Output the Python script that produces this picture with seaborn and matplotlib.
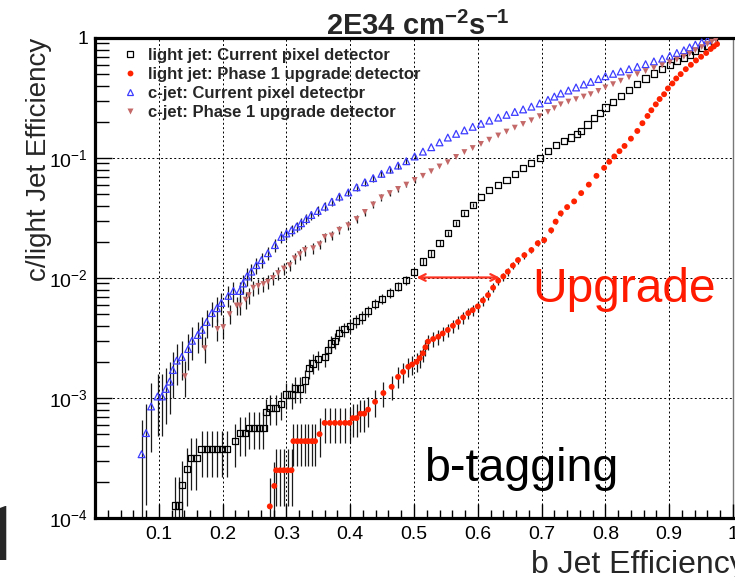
import numpy as np
import matplotlib
matplotlib.use("Agg")
import matplotlib.pyplot as plt
from matplotlib.lines import Line2D
from matplotlib.ticker import FixedLocator, FixedFormatter, LogLocator, MultipleLocator, NullFormatter
import seaborn as sns

# light jet, current pixel detector (black open squares)
x_light_cur = [0.125, 0.132, 0.136, 0.144, 0.151, 0.159, 0.167, 0.175, 0.183, 0.191,
               0.199, 0.207, 0.219, 0.227, 0.235, 0.241, 0.249, 0.257, 0.264, 0.268,
               0.275, 0.283, 0.292, 0.300, 0.308, 0.313, 0.321, 0.329, 0.336, 0.342,
               0.349, 0.360, 0.365, 0.370, 0.376, 0.382, 0.391, 0.400, 0.409, 0.418,
               0.428, 0.439, 0.450, 0.462, 0.475, 0.488, 0.500, 0.514, 0.527, 0.540,
               0.553, 0.566, 0.579, 0.592, 0.605, 0.618, 0.632, 0.645, 0.658, 0.671,
               0.684, 0.697, 0.710, 0.723, 0.735, 0.746, 0.755, 0.762, 0.772, 0.782,
               0.791, 0.800, 0.812, 0.824, 0.837, 0.850, 0.863, 0.876, 0.889, 0.901,
               0.912, 0.923, 0.932, 0.941, 0.951, 0.960, 0.970]
y_light_cur = [1.27e-4, 1.27e-4, 1.88e-4, 2.55e-4, 3.15e-4, 3.15e-4, 3.76e-4, 3.76e-4, 3.76e-4, 3.76e-4,
               3.76e-4, 3.76e-4, 4.4e-4, 5.1e-4, 5.1e-4, 5.66e-4, 5.66e-4, 5.66e-4, 5.66e-4, 7.6e-4,
               8.2e-4, 8.2e-4, 8.9e-4, 1.07e-3, 1.07e-3, 1.2e-3, 1.2e-3, 1.4e-3, 1.77e-3, 1.94e-3,
               2.1e-3, 2.2e-3, 2.5e-3, 2.85e-3, 3.0e-3, 3.5e-3, 3.75e-3, 4.0e-3, 4.35e-3, 4.7e-3,
               5.3e-3, 6.1e-3, 6.7e-3, 7.5e-3, 8.5e-3, 9.6e-3, 1.13e-2, 1.37e-2, 1.6e-2, 1.95e-2,
               2.36e-2, 2.86e-2, 3.46e-2, 4.06e-2, 0.047, 0.054, 0.060, 0.0656, 0.074, 0.082,
               0.091, 0.100, 0.114, 0.128, 0.138, 0.148, 0.158, 0.169, 0.19, 0.214,
               0.238, 0.263, 0.295, 0.329, 0.37, 0.412, 0.46, 0.507, 0.55, 0.598,
               0.64, 0.68, 0.725, 0.774, 0.82, 0.863, 0.92]
rel_err_light_cur = [0.72, 0.72, 0.60, 0.51, 0.46, 0.46, 0.42, 0.42, 0.42, 0.42,
                     0.42, 0.42, 0.39, 0.36, 0.36, 0.34, 0.34, 0.34, 0.34, 0.30,
                     0.28, 0.28, 0.27, 0.25, 0.25, 0.24, 0.24, 0.22, 0.19, 0.19,
                     0.18, 0.17, 0.16, 0.15, 0.15, 0.14, 0.133, 0.13, 0.124, 0.12,
                     0.11, 0.10, 0.10, 0.094, 0.088, 0.083, 0.077, 0.07, 0.064, 0.058,
                     0.053, 0.048, 0.044, 0.04]

# light jet, phase 1 upgrade detector (red dots)
x_light_up = [0.274, 0.281, 0.284, 0.290, 0.296, 0.302, 0.308, 0.311, 0.317, 0.323,
              0.329, 0.334, 0.340, 0.345, 0.352, 0.360, 0.368, 0.376, 0.384, 0.392,
              0.399, 0.404, 0.410, 0.416, 0.422, 0.428, 0.439, 0.452, 0.465, 0.475,
              0.483, 0.491, 0.497, 0.504, 0.509, 0.514, 0.518, 0.522, 0.530, 0.538,
              0.545, 0.553, 0.561, 0.569, 0.577, 0.585, 0.592, 0.600, 0.608, 0.616,
              0.624, 0.632, 0.640, 0.647, 0.655, 0.663, 0.673, 0.684, 0.694, 0.704,
              0.715, 0.722, 0.730, 0.740, 0.751, 0.762, 0.774, 0.786, 0.798, 0.806,
              0.814, 0.822, 0.830, 0.840, 0.850, 0.858, 0.866, 0.872, 0.879, 0.885,
              0.892, 0.898, 0.905, 0.911, 0.918, 0.926, 0.934, 0.942, 0.950, 0.958,
              0.965, 0.970, 0.975]
y_light_up = [1.25e-4, 1.85e-4, 2.5e-4, 2.5e-4, 2.5e-4, 2.5e-4, 2.5e-4, 4.37e-4, 4.37e-4, 4.37e-4,
              4.37e-4, 4.37e-4, 4.37e-4, 4.37e-4, 5.0e-4, 6.2e-4, 6.2e-4, 6.2e-4, 6.2e-4, 6.2e-4,
              6.2e-4, 6.8e-4, 6.8e-4, 7.4e-4, 7.4e-4, 8.0e-4, 9.3e-4, 1.1e-3, 1.24e-3, 1.5e-3,
              1.65e-3, 1.82e-3, 1.9e-3, 2.0e-3, 2.15e-3, 2.36e-3, 2.65e-3, 2.95e-3, 3.1e-3, 3.24e-3,
              3.45e-3, 3.69e-3, 4.0e-3, 4.3e-3, 4.7e-3, 5.1e-3, 5.4e-3, 5.8e-3, 6.5e-3, 7.2e-3,
              8.3e-3, 9.5e-3, 1.03e-2, 1.13e-2, 1.27e-2, 1.41e-2, 1.55e-2, 1.71e-2, 1.95e-2, 2.07e-2,
              2.5e-2, 2.95e-2, 3.46e-2, 3.9e-2, 4.35e-2, 5.1e-2, 0.06, 0.071, 0.0828, 0.093,
              0.103, 0.114, 0.126, 0.145, 0.168, 0.195, 0.224, 0.25, 0.28, 0.31,
              0.34, 0.38, 0.418, 0.46, 0.5, 0.55, 0.598, 0.65, 0.698, 0.75,
              0.81, 0.85, 0.89]
rel_err_light_up = [0.71, 0.58, 0.50, 0.50, 0.50, 0.50, 0.50, 0.38, 0.38, 0.38,
                    0.38, 0.38, 0.38, 0.38, 0.35, 0.32, 0.32, 0.32, 0.32, 0.32,
                    0.32, 0.30, 0.30, 0.29, 0.29, 0.28, 0.26, 0.24, 0.22, 0.20,
                    0.195, 0.185, 0.18, 0.18, 0.17, 0.16, 0.155, 0.145, 0.142, 0.14,
                    0.135, 0.13, 0.125, 0.12, 0.115, 0.11, 0.107, 0.10, 0.098, 0.093,
                    0.087, 0.081, 0.078, 0.074, 0.07, 0.067, 0.063, 0.06, 0.057, 0.055,
                    0.05, 0.046, 0.042, 0.04, 0.038]

# c-jet, current pixel detector (blue open triangles)
x_c_cur = [0.073, 0.080, 0.088, 0.098, 0.105, 0.111, 0.117, 0.122, 0.128, 0.136,
           0.146, 0.152, 0.161, 0.167, 0.175, 0.183, 0.191, 0.198, 0.209, 0.217,
           0.227, 0.232, 0.238, 0.245, 0.253, 0.261, 0.271, 0.282, 0.292, 0.300,
           0.308, 0.316, 0.323, 0.331, 0.339, 0.349, 0.360, 0.371, 0.383, 0.397,
           0.410, 0.423, 0.436, 0.449, 0.462, 0.475, 0.488, 0.501, 0.514, 0.527,
           0.540, 0.553, 0.566, 0.579, 0.592, 0.605, 0.618, 0.632, 0.645, 0.658,
           0.671, 0.684, 0.697, 0.710, 0.720, 0.730, 0.742, 0.754, 0.766, 0.777,
           0.789, 0.800, 0.812, 0.824, 0.837, 0.850, 0.863, 0.876, 0.889, 0.901,
           0.912, 0.923, 0.932, 0.941, 0.951, 0.960]
y_c_cur = [3.4e-4, 5.1e-4, 8.5e-4, 1.03e-3, 1.03e-3, 1.19e-3, 1.37e-3, 1.71e-3, 2.05e-3, 2.2e-3,
           2.56e-3, 3.0e-3, 3.35e-3, 3.7e-3, 4.3e-3, 5.1e-3, 5.6e-3, 6.2e-3, 7.1e-3, 7.8e-3,
           7.8e-3, 9.0e-3, 1.03e-2, 1.13e-2, 1.28e-2, 1.41e-2, 1.61e-2, 1.88e-2, 2.2e-2, 2.35e-2,
           2.5e-2, 2.68e-2, 2.86e-2, 3.1e-2, 3.35e-2, 3.62e-2, 3.93e-2, 4.32e-2, 4.77e-2, 0.0517,
           0.057, 0.0628, 0.068, 0.0738, 0.080, 0.0865, 0.094, 0.103, 0.113, 0.123,
           0.135, 0.148, 0.159, 0.170, 0.182, 0.193, 0.205, 0.217, 0.229, 0.242,
           0.254, 0.268, 0.285, 0.305, 0.325, 0.345, 0.365, 0.387, 0.41, 0.431,
           0.455, 0.48, 0.503, 0.526, 0.55, 0.575, 0.605, 0.638, 0.672, 0.71,
           0.75, 0.79, 0.835, 0.88, 0.92, 0.96]
rel_err_c_cur = [0.92, 0.75, 0.58, 0.53, 0.53, 0.49, 0.46, 0.41, 0.37, 0.36,
                 0.33, 0.31, 0.29, 0.28, 0.26, 0.24, 0.23, 0.21, 0.20, 0.19,
                 0.19, 0.18, 0.17, 0.16, 0.15, 0.14, 0.13, 0.12, 0.11, 0.11,
                 0.11, 0.10, 0.10, 0.095, 0.09, 0.09, 0.085, 0.08, 0.08, 0.075,
                 0.07, 0.067, 0.065, 0.06, 0.06, 0.055, 0.055, 0.05]

# c-jet, phase 1 upgrade detector (rosy down triangles)
x_c_up = [0.141, 0.172, 0.192, 0.201, 0.211, 0.222, 0.227, 0.236, 0.241, 0.248,
          0.256, 0.264, 0.271, 0.279, 0.287, 0.296, 0.305, 0.313, 0.321, 0.329,
          0.342, 0.352, 0.360, 0.371, 0.383, 0.397, 0.410, 0.423, 0.436, 0.449,
          0.462, 0.475, 0.488, 0.501, 0.514, 0.527, 0.540, 0.553, 0.566, 0.579,
          0.592, 0.605, 0.618, 0.632, 0.645, 0.658, 0.671, 0.684, 0.697, 0.710,
          0.720, 0.730, 0.742, 0.754, 0.766, 0.777, 0.789, 0.800, 0.812, 0.824,
          0.837, 0.850, 0.863, 0.876, 0.889, 0.901, 0.912, 0.923, 0.932, 0.941,
          0.951, 0.960, 0.967, 0.973]
y_c_up = [1.52e-3, 2.6e-3, 3.76e-3, 3.9e-3, 5.0e-3, 5.9e-3, 5.9e-3, 6.6e-3, 7.2e-3, 8.3e-3,
          8.6e-3, 8.9e-3, 9.3e-3, 1.0e-2, 1.1e-2, 1.2e-2, 1.28e-2, 1.46e-2, 1.58e-2, 1.71e-2,
          1.77e-2, 1.91e-2, 2.2e-2, 2.26e-2, 2.52e-2, 2.75e-2, 3.1e-2, 3.55e-2, 4.1e-2, 4.7e-2,
          5.1e-2, 5.52e-2, 6.0e-2, 6.56e-2, 7.1e-2, 7.75e-2, 8.5e-2, 9.22e-2, 0.102, 0.112,
          0.121, 0.131, 0.142, 0.154, 0.166, 0.179, 0.192, 0.206, 0.223, 0.242,
          0.26, 0.28, 0.295, 0.309, 0.325, 0.34, 0.362, 0.387, 0.412, 0.44,
          0.47, 0.50, 0.53, 0.561, 0.592, 0.626, 0.66, 0.698, 0.74, 0.79,
          0.84, 0.89, 0.93, 0.96]
rel_err_c_up = [0.33, 0.25, 0.21, 0.21, 0.18, 0.17, 0.17, 0.16, 0.15, 0.14,
                0.14, 0.14, 0.13, 0.13, 0.12, 0.12, 0.11, 0.11, 0.10, 0.10,
                0.10, 0.09, 0.087, 0.086, 0.08, 0.078, 0.073, 0.068, 0.064, 0.06,
                0.057, 0.055, 0.053, 0.05]

labels = ["light jet: Current pixel detector",
          "light jet: Phase 1 upgrade detector",
          "c-jet: Current pixel detector",
          "c-jet: Phase 1 upgrade detector"]
y_tick_vals = [1e-4, 1e-3, 1e-2, 1e-1, 1]
y_tick_labels = ["$10^{-4}$", "$10^{-3}$", "$10^{-2}$", "$10^{-1}$", "1"]
x_tick_vals = [0.1, 0.2, 0.3, 0.4, 0.5, 0.6, 0.7, 0.8, 0.9, 1.0]
x_tick_labels = ["0.1", "0.2", "0.3", "0.4", "0.5", "0.6", "0.7", "0.8", "0.9", "1"]
arrow_x = (0.504, 0.634)
arrow_y = 0.0101

c_black = "black"
c_red = "#ff2200"
c_blue = "#3c3cff"
c_rosy = "#c46868"

sns.set_style("ticks")
plt.rcParams["font.family"] = ["Liberation Sans", "DejaVu Sans"]
plt.rcParams["mathtext.fontset"] = "custom"
plt.rcParams["mathtext.rm"] = "Liberation Sans"
plt.rcParams["mathtext.it"] = "Liberation Sans:italic"
plt.rcParams["mathtext.bf"] = "Liberation Sans:bold"

fig = plt.figure(figsize=(7.35, 5.77), dpi=100)
ax = fig.add_axes([95 / 735, 59 / 577, 638 / 735, 480 / 577])


def pad_errors(rel, n):
    # bars are only visible on the lower part of each curve
    return np.array(list(rel) + [0.0] * (n - len(rel)))


# error bars first, markers on top
for xs, ys, rel in [(x_light_cur, y_light_cur, rel_err_light_cur),
                    (x_light_up, y_light_up, rel_err_light_up),
                    (x_c_cur, y_c_cur, rel_err_c_cur),
                    (x_c_up, y_c_up, rel_err_c_up)]:
    ys = np.array(ys)
    err = ys * pad_errors(rel, len(ys))
    ax.errorbar(xs, ys, yerr=err, fmt="none", ecolor="#1a1a1a", elinewidth=0.9,
                capsize=0, zorder=2)

sns.scatterplot(x=x_light_cur, y=y_light_cur, ax=ax, marker="s", s=20,
                facecolor="none", edgecolor=c_black, linewidth=0.9, zorder=3)
sns.scatterplot(x=x_light_up, y=y_light_up, ax=ax, marker="o", s=18,
                color=c_red, edgecolor="none", zorder=3)
sns.scatterplot(x=x_c_cur, y=y_c_cur, ax=ax, marker="^", s=24,
                facecolor="none", edgecolor=c_blue, linewidth=0.9, zorder=3)
sns.scatterplot(x=x_c_up, y=y_c_up, ax=ax, marker="v", s=18,
                color=c_rosy, edgecolor="none", zorder=3)

ax.set_yscale("log")
ax.set_xlim(0, 1)
ax.set_ylim(1e-4, 1)

ax.yaxis.set_major_locator(FixedLocator(y_tick_vals))
ax.yaxis.set_major_formatter(FixedFormatter(y_tick_labels))
ax.yaxis.set_minor_locator(LogLocator(base=10, subs=np.arange(2, 10)))
ax.yaxis.set_minor_formatter(NullFormatter())
ax.xaxis.set_major_locator(FixedLocator(x_tick_vals))
ax.xaxis.set_major_formatter(FixedFormatter(x_tick_labels))
ax.xaxis.set_minor_locator(MultipleLocator(0.02))

ax.tick_params(axis="both", which="both", direction="in", top=False, right=False,
               labelsize=14, colors="black")
ax.tick_params(axis="y", which="major", length=12, width=1.0, pad=5)
ax.tick_params(axis="y", which="minor", length=10, width=1.0)
ax.tick_params(axis="x", which="major", length=10, width=1.0, pad=6)
ax.tick_params(axis="x", which="minor", length=6, width=1.0)

ax.grid(True, which="major", color="black", linestyle=(0, (2, 2.5)), linewidth=0.7)
ax.set_axisbelow(False)

for side in ["left", "bottom", "top"]:
    ax.spines[side].set_linewidth(2.3)
    ax.spines[side].set_color("black")
ax.spines["right"].set_linewidth(1.0)
ax.spines["right"].set_color("#777777")

ax.set_xlabel("b Jet Efficiency", fontsize=23)
ax.xaxis.set_label_coords((531 - 95) / 638, (518 - 572.7) / 480)
ax.xaxis.label.set_ha("left")
ax.xaxis.label.set_va("baseline")

ax.set_ylabel("c/light Jet Efficiency", fontsize=20)
ax.yaxis.label.set_rotation_mode("anchor")
ax.yaxis.label.set_ha("right")
ax.yaxis.label.set_va("center")
ax.yaxis.set_label_coords((39 - 95) / 638, (518 - 38) / 480)

handles = [
    Line2D([], [], ls="none", marker="s", ms=4.5, mfc="none", mec=c_black, mew=0.9),
    Line2D([], [], ls="none", marker="o", ms=4.2, mfc=c_red, mec="none"),
    Line2D([], [], ls="none", marker="^", ms=5, mfc="none", mec=c_blue, mew=0.9),
    Line2D([], [], ls="none", marker="v", ms=4.5, mfc=c_rosy, mec="none"),
]
ax.legend(handles, labels, loc="upper left", bbox_to_anchor=(0.042, 0.979),
          frameon=False, borderpad=0, borderaxespad=0, handlelength=1.0,
          handletextpad=0.55, labelspacing=0.23,
          prop={"weight": "bold", "size": 12})

ax.annotate("", xy=(arrow_x[0], arrow_y), xytext=(arrow_x[1], arrow_y),
            arrowprops=dict(arrowstyle="<->", color="#ff3322", lw=1.6,
                            mutation_scale=12, shrinkA=0, shrinkB=0), zorder=4)
ax.text(0.686, 6.27e-3, "Upgrade", color="#ff1a00", fontsize=34.5,
        ha="left", va="baseline", zorder=5)
ax.text(0.516, 2.03e-4, "b-tagging", color="black", fontsize=33.5,
        ha="left", va="baseline", zorder=5)

fig.text(0.568, 1 - 35 / 577, r"2E34 cm$^{\mathbf{-2}}$s$^{\mathbf{-1}}$",
         fontsize=21, fontweight="bold", ha="center", va="baseline")
# slide page number cut off at the left edge (footless "1" like Helvetica)
fig.text(0.5 / 735, 1 - 560 / 577, "1", fontsize=55, ha="center", va="baseline",
         family=["Roboto", "Liberation Sans"])

fig.savefig("out.png", dpi=100)
